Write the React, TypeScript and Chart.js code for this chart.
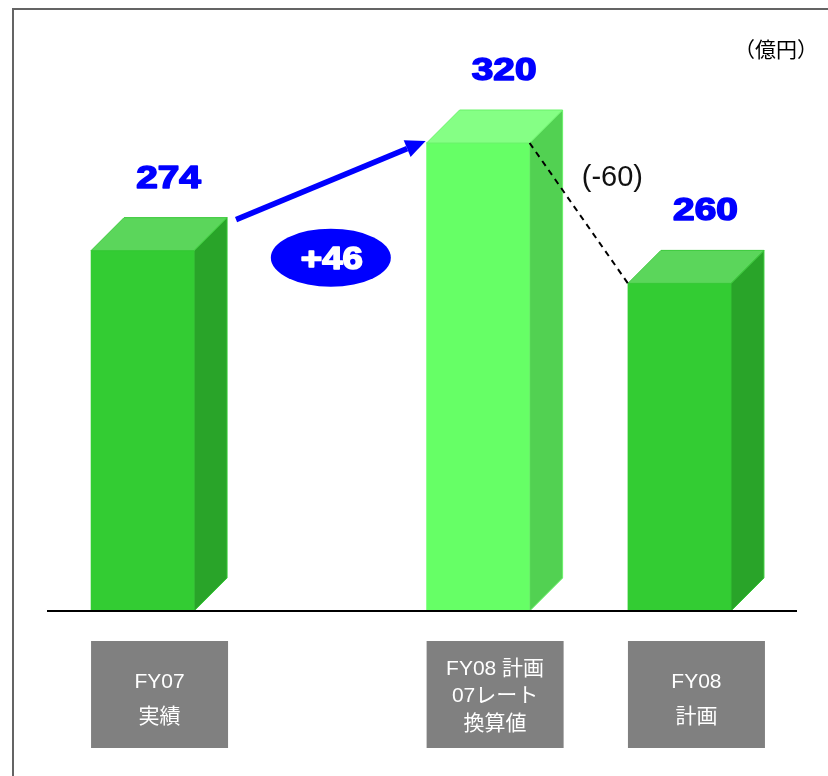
import React, { useEffect, useRef } from "react";
import { Chart, registerables } from "chart.js";

Chart.register(...registerables);

// ---- data ----
const categories: string[][] = [
  ["FY07", "実績"],
  [],
  [],
  [],
  [],
  ["FY08 計画", "07レート", "換算値"],
  [],
  [],
  ["FY08", "計画"],
];
const values: (number | null)[] = [274, null, null, null, null, 320, null, null, 260];
const barKinds: string[] = ["normal", "", "", "", "", "converted", "", "", "normal"];
const unitLabel = "（億円）";
const yMin = 120;
const yMax = 370;

const PALETTE: Record<string, { front: string; side: string; top: string; edge: string }> = {
  normal: { front: "#33cc33", side: "#29a429", top: "#5bd65b", edge: "#36c936" },
  converted: { front: "#66ff66", side: "#52d152", top: "#85ff85", edge: "#6af26a" },
};

const DEPTH = 33;
const LATIN_CJK = '"Liberation Sans", "Noto Sans CJK JP", sans-serif';

function boldText(ctx: CanvasRenderingContext2D, text: string, x: number, y: number, sx: number, color: string) {
  ctx.save();
  ctx.translate(x, y);
  ctx.scale(sx, 1);
  ctx.font = 'bold 31px "Liberation Sans", Arial, sans-serif';
  ctx.fillStyle = color;
  ctx.strokeStyle = color;
  ctx.lineWidth = 1.6;
  ctx.lineJoin = "round";
  ctx.textAlign = "center";
  ctx.textBaseline = "alphabetic";
  ctx.fillText(text, 0, 0);
  ctx.strokeText(text, 0, 0);
  ctx.restore();
}

const decoPlugin = {
  id: "deco",
  beforeDraw(chart: any) {
    const ctx = chart.ctx;
    ctx.save();
    ctx.fillStyle = "#ffffff";
    ctx.fillRect(0, 0, chart.width, chart.height);
    ctx.restore();
  },
  afterDatasetsDraw(chart: any) {
    const ctx: CanvasRenderingContext2D = chart.ctx;
    const meta = chart.getDatasetMeta(0);
    const bottom = chart.chartArea.bottom;
    const bars = meta.data
      .map((el: any, i: number) => {
        const p = el.getProps(["x", "y", "base", "width"], true);
        return {
          i,
          x: p.x,
          y: p.y,
          base: Math.min(p.base, bottom),
          w: p.width,
          L: p.x - p.width / 2,
          R: p.x + p.width / 2,
        };
      })
      .filter((b: any) => values[b.i] != null);

    ctx.save();
    // 3D faces
    bars.forEach((b: any) => {
      const pal = PALETTE[barKinds[b.i]] || PALETTE.normal;
      ctx.beginPath();
      ctx.moveTo(b.R, b.y);
      ctx.lineTo(b.R + DEPTH, b.y - DEPTH);
      ctx.lineTo(b.R + DEPTH, b.base - DEPTH);
      ctx.lineTo(b.R, b.base);
      ctx.closePath();
      ctx.fillStyle = pal.side;
      ctx.fill();
      ctx.strokeStyle = pal.edge;
      ctx.lineWidth = 1;
      ctx.stroke();

      ctx.beginPath();
      ctx.moveTo(b.L, b.y);
      ctx.lineTo(b.L + DEPTH, b.y - DEPTH);
      ctx.lineTo(b.R + DEPTH, b.y - DEPTH);
      ctx.lineTo(b.R, b.y);
      ctx.closePath();
      ctx.fillStyle = pal.top;
      ctx.fill();
      ctx.strokeStyle = pal.edge;
      ctx.lineWidth = 1;
      ctx.stroke();
    });

    // baseline
    ctx.beginPath();
    ctx.moveTo(47, bottom);
    ctx.lineTo(797, bottom);
    ctx.strokeStyle = "#000000";
    ctx.lineWidth = 2;
    ctx.stroke();

    // value labels
    bars.forEach((b: any) => {
      boldText(ctx, String(values[b.i]), b.x + 26, b.y - DEPTH - 30, 1.25, "#0000ff");
    });

    if (bars.length >= 3) {
      const b1 = bars[0], b2 = bars[1], b3 = bars[2];
      const sx = b1.R + DEPTH + 9, sy = b1.y - DEPTH + 2;
      const ex = b2.L - 1, ey = b2.y - 2;
      const ang = Math.atan2(ey - sy, ex - sx);
      const headLen = 20, headW = 9;
      const bx = ex - headLen * Math.cos(ang), by = ey - headLen * Math.sin(ang);
      ctx.beginPath();
      ctx.moveTo(sx, sy);
      ctx.lineTo(bx, by);
      ctx.strokeStyle = "#0000ff";
      ctx.lineWidth = 5.5;
      ctx.stroke();
      ctx.beginPath();
      ctx.moveTo(ex, ey);
      ctx.lineTo(bx + headW * Math.sin(ang), by - headW * Math.cos(ang));
      ctx.lineTo(bx - headW * Math.sin(ang), by + headW * Math.cos(ang));
      ctx.closePath();
      ctx.fillStyle = "#0000ff";
      ctx.fill();

      const diff1 = (values[b2.i] as number) - (values[b1.i] as number);
      const cx = (sx + ex) / 2, cy = b1.y + 7;
      ctx.beginPath();
      ctx.ellipse(cx, cy, 60, 29, 0, 0, Math.PI * 2);
      ctx.fillStyle = "#0000ff";
      ctx.fill();
      boldText(ctx, (diff1 >= 0 ? "+" : "") + diff1, cx + 1, cy + 11, 1.18, "#ffffff");

      ctx.beginPath();
      ctx.setLineDash([6, 5]);
      ctx.moveTo(b2.R, b2.y);
      ctx.lineTo(b3.L, b3.y);
      ctx.strokeStyle = "#000000";
      ctx.lineWidth = 2;
      ctx.stroke();
      ctx.setLineDash([]);

      const diff2 = (values[b3.i] as number) - (values[b2.i] as number);
      const mx = (b2.R + b3.L) / 2, my = (b2.y + b3.y) / 2;
      ctx.font = '29px "Liberation Sans", Arial, sans-serif';
      ctx.fillStyle = "#111111";
      ctx.textAlign = "left";
      ctx.textBaseline = "middle";
      ctx.fillText("(" + diff2 + ")", mx + 3, my - 35);
    }

    // unit label
    ctx.font = '21px "Noto Sans CJK JP", sans-serif';
    ctx.fillStyle = "#000000";
    ctx.textAlign = "right";
    ctx.textBaseline = "middle";
    ctx.fillText(unitLabel, 818, 49);

    // category boxes
    bars.forEach((b: any) => {
      const lines = categories[b.i];
      const bxL = b.L, bxR = b.R + DEPTH + 1;
      const top = 641, bot = 748;
      ctx.fillStyle = "#808080";
      ctx.fillRect(bxL, top, bxR - bxL, bot - top);
      ctx.font = "21px " + LATIN_CJK;
      ctx.fillStyle = "#ffffff";
      ctx.textAlign = "center";
      ctx.textBaseline = "middle";
      const lh = lines.length >= 3 ? 27.5 : 35;
      const centerY = lines.length >= 3 ? 696.5 : 699.5;
      const cxm = (bxL + bxR) / 2;
      lines.forEach((t, k) => {
        ctx.fillText(t, cxm, centerY + (k - (lines.length - 1) / 2) * lh);
      });
    });

    // outer frame
    ctx.strokeStyle = "#646464";
    ctx.lineWidth = 2;
    ctx.strokeRect(13, 9, 1000, 1000);
    ctx.restore();
  },
};

export default function App() {
  const ref = useRef<HTMLCanvasElement | null>(null);
  useEffect(() => {
    if (!ref.current) return;
    const chart = new Chart(ref.current, {
      type: "bar",
      data: {
        labels: categories.map((c, i) => c.join(" ") || " ".repeat(i)),
        datasets: [
          {
            data: values as any,
            backgroundColor: barKinds.map((k) => (PALETTE[k] || PALETTE.normal).front),
            borderWidth: 0,
            barThickness: 103,
            clip: { left: false, right: false, top: false, bottom: 0 } as any,
          },
        ],
      },
      options: {
        animation: false,
        responsive: false,
        devicePixelRatio: 1,
        layout: { padding: { left: 109, right: 115, top: 26, bottom: 165 } },
        plugins: { legend: { display: false }, tooltip: { enabled: false } },
        scales: {
          x: { display: false, grid: { display: false } },
          y: { display: false, min: yMin, max: yMax, grid: { display: false } },
        },
      },
      plugins: [decoPlugin],
    });
    return () => chart.destroy();
  }, []);
  return (
    <div style={{ position: "fixed", left: 0, top: 0, width: 828, height: 776, background: "#fff" }}>
      <canvas ref={ref} width={828} height={776} style={{ display: "block" }} />
    </div>
  );
}
